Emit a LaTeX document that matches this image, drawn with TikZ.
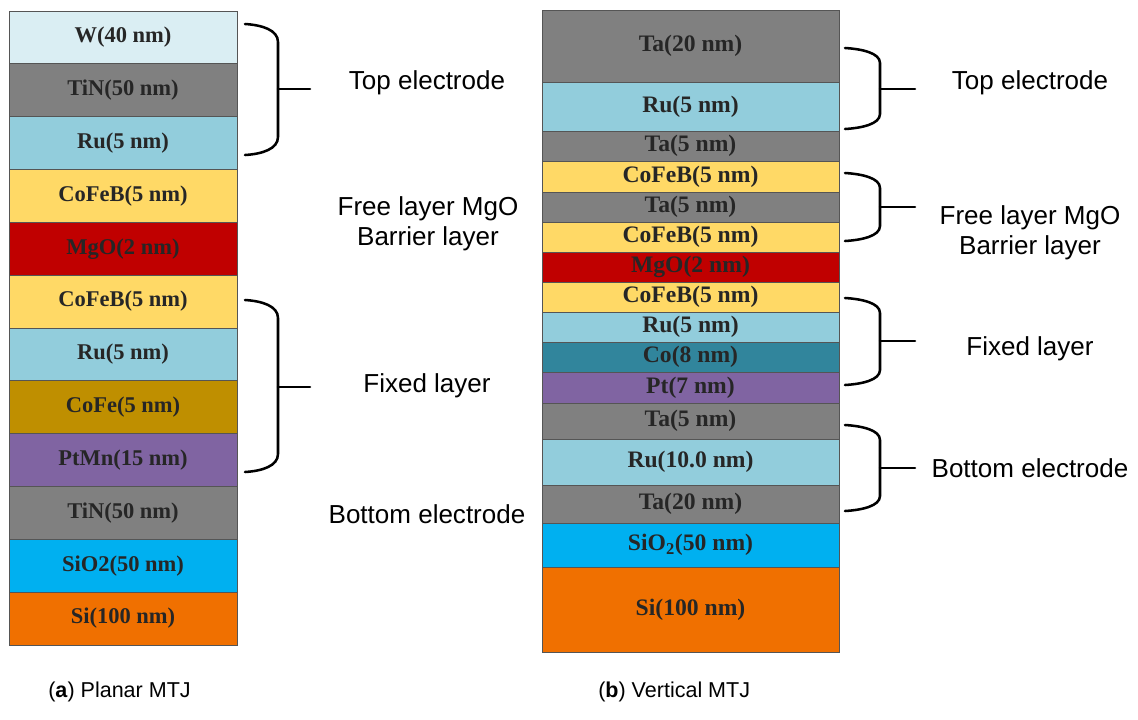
\documentclass[tikz,border=0pt]{standalone}
\usepackage{fontspec}
\setmainfont{Liberation Serif}
\setsansfont{Liberation Sans}
\usepackage{xcolor}
\usetikzlibrary{positioning}
\definecolor{mtjw}{RGB}{218,238,243}
\definecolor{mtjgray}{RGB}{128,128,128}
\definecolor{mtjru}{RGB}{146,205,220}
\definecolor{mtjcofeb}{RGB}{255,217,102}
\definecolor{mtjmgo}{RGB}{192,0,0}
\definecolor{mtjcofe}{RGB}{191,143,0}
\definecolor{mtjpt}{RGB}{128,100,162}
\definecolor{mtjsio}{RGB}{0,176,240}
\definecolor{mtjsi}{RGB}{240,112,0}
\definecolor{mtjco}{RGB}{49,133,156}
\definecolor{mtjedge}{RGB}{85,85,85}
\def\px{0.025cm}

\begin{document}
\begin{tikzpicture}[
  x=\px, y=-\px,
  node distance=0pt,
  layer/.style={draw=mtjedge, line width=0.5pt, inner sep=0pt, outer sep=0pt,
    minimum width=228*\px, minimum height=52.83*\px, text=black!85,
    font=\fontsize{16}{18}\selectfont\bfseries},
  vlayer/.style={layer, minimum width=297*\px,
    font=\fontsize{16.8}{19}\selectfont\bfseries},
  brk/.style={line width=1.8pt, line cap=round},
  lbl/.style={font=\sffamily\fontsize{18.5}{21.5}\selectfont, align=center},
  figcap/.style={font=\sffamily\fontsize{15.3}{18}\selectfont, anchor=west, inner sep=0pt}
]
  \useasboundingbox (0,0) rectangle (1138,719);

  % (a) planar stack
  \node[layer, fill=mtjw, anchor=north] (pw) at (123,11) {W(40 nm)};
  \node[layer, fill=mtjgray, below=of pw] (ptin) {TiN(50 nm)};
  \node[layer, fill=mtjru, below=of ptin] (pru) {Ru(5 nm)};
  \node[layer, fill=mtjcofeb, below=of pru] (pfree) {CoFeB(5 nm)};
  \node[layer, fill=mtjmgo, below=of pfree] (pmgo) {MgO(2 nm)};
  \node[layer, fill=mtjcofeb, below=of pmgo] (pref) {CoFeB(5 nm)};
  \node[layer, fill=mtjru, below=of pref] (pruf) {Ru(5 nm)};
  \node[layer, fill=mtjcofe, below=of pruf] (pcofe) {CoFe(5 nm)};
  \node[layer, fill=mtjpt, below=of pcofe] (pptmn) {PtMn(15 nm)};
  \node[layer, fill=mtjgray, below=of pptmn] (ptinb) {TiN(50 nm)};
  \node[layer, fill=mtjsio, below=of ptinb] (psio) {SiO2(50 nm)};
  \node[layer, fill=mtjsi, below=of psio] (psi) {Si(100 nm)};

  \draw[brk] (245,24) .. controls (262,25) and (278,30) .. (278,42) -- (278,137)
    .. controls (278,149) and (262,154) .. (245,155);
  \draw[brk] (278,89) -- (310,89);
  \draw[brk] (245,300) .. controls (262,301) and (278,306) .. (278,318) -- (278,454)
    .. controls (278,466) and (262,471) .. (245,472);
  \draw[brk] (278,387) -- (310,387);

  \node[lbl] (ptop) at (427,83) {Top electrode};
  \node[lbl] (pbar) at (428,224) {Free layer MgO\\Barrier layer};
  \node[lbl] (pfix) at (427,386) {Fixed layer};
  \node[lbl] (pbot) at (427,514) {Bottom electrode};

  % (b) vertical stack
  \node[vlayer, fill=mtjgray, minimum height=72*\px, anchor=north] (vta) at (690.5,10) {Ta(20 nm)};
  \node[vlayer, fill=mtjru, minimum height=49*\px, below=of vta] (vru) {Ru(5 nm)};
  \node[vlayer, fill=mtjgray, minimum height=30*\px, below=of vru] (vcap) {Ta(5 nm)};
  \node[vlayer, fill=mtjcofeb, minimum height=31*\px, below=of vcap] (vfreea) {CoFeB(5 nm)};
  \node[vlayer, fill=mtjgray, minimum height=30*\px, below=of vfreea] (vspace) {Ta(5 nm)};
  \node[vlayer, fill=mtjcofeb, minimum height=30*\px, below=of vspace] (vfreeb) {CoFeB(5 nm)};
  \node[vlayer, fill=mtjmgo, minimum height=30*\px, below=of vfreeb] (vmgo) {MgO(2 nm)};
  \node[vlayer, fill=mtjcofeb, minimum height=30*\px, below=of vmgo] (vref) {CoFeB(5 nm)};
  \node[vlayer, fill=mtjru, minimum height=30*\px, below=of vref] (vruf) {Ru(5 nm)};
  \node[vlayer, fill=mtjco, minimum height=30*\px, below=of vruf] (vco) {Co(8 nm)};
  \node[vlayer, fill=mtjpt, minimum height=31*\px, below=of vco] (vpt) {Pt(7 nm)};
  \node[vlayer, fill=mtjgray, minimum height=36*\px, below=of vpt] (vseed) {Ta(5 nm)};
  \node[vlayer, fill=mtjru, minimum height=46*\px, below=of vseed] (vrub) {Ru(10.0 nm)};
  \node[vlayer, fill=mtjgray, minimum height=38*\px, below=of vrub] (vtab) {Ta(20 nm)};
  \node[vlayer, fill=mtjsio, minimum height=44*\px, below=of vtab] (vsio) {SiO$_\mathbf{2}$(50 nm)};
  \node[vlayer, fill=mtjsi, minimum height=85*\px, below=of vsio] (vsi) {Si(100 nm)};

  \draw[brk] (845,48) .. controls (862,49) and (880,53) .. (880,63) -- (880,114)
    .. controls (880,124) and (862,128) .. (845,129);
  \draw[brk] (880,89) -- (915,89);
  \draw[brk] (845,173) .. controls (862,174) and (880,178) .. (880,188) -- (880,226)
    .. controls (880,236) and (862,240) .. (845,241);
  \draw[brk] (880,207) -- (915,207);
  \draw[brk] (845,298) .. controls (862,299) and (880,303) .. (880,313) -- (880,370)
    .. controls (880,380) and (862,384) .. (845,385);
  \draw[brk] (880,341) -- (915,341);
  \draw[brk] (845,425) .. controls (862,426) and (880,430) .. (880,440) -- (880,496)
    .. controls (880,506) and (862,510) .. (845,511);
  \draw[brk] (880,468) -- (915,468);

  \node[lbl] (vtop) at (1030,83) {Top electrode};
  \node[lbl] (vbar) at (1030,233) {Free layer MgO\\Barrier layer};
  \node[lbl] (vfix) at (1030,349) {Fixed layer};
  \node[lbl] (vbot) at (1030,468) {Bottom electrode};

  % captions
  \node[figcap] (capa) at (48,692) {(\textbf{a}) Planar MTJ};
  \node[figcap] (capb) at (598,692) {(\textbf{b}) Vertical MTJ};
\end{tikzpicture}
\end{document}
